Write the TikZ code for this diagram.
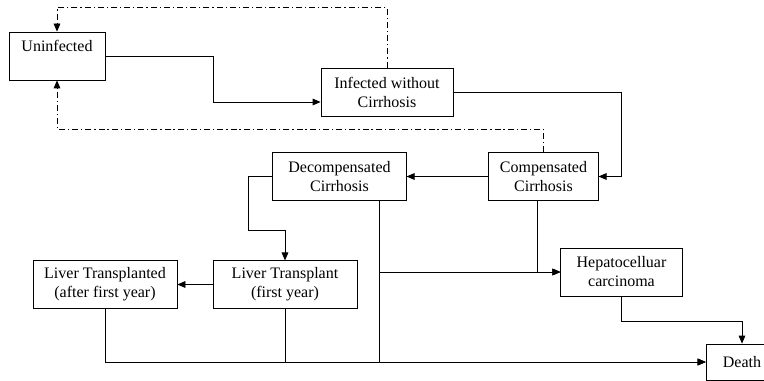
\documentclass[tikz,border=0pt]{standalone}
\usepackage{fontspec}
\setmainfont{Liberation Serif}
\usepackage{tikz}
\usetikzlibrary{arrows.meta}
\usetikzlibrary{shapes.geometric,shapes.misc}

\tikzset{
  state/.style={draw, rectangle, align=center, inner sep=2pt, line width=0.6pt,
    font=\fontsize{12}{14.25}\selectfont},
  trans/.style={line width=0.6pt, -{Triangle[length=6pt,width=5pt]}},
  back/.style={line width=0.6pt, dash pattern=on 4.5pt off 2.2pt on 1pt off 2.2pt,
    -{Triangle[length=6pt,width=5pt]}}
}

\begin{document}
\begin{tikzpicture}[x=0.75pt,y=-0.75pt]
\useasboundingbox (0,0) rectangle (764,381);
\node [state, minimum width=72pt, minimum height=36pt,
  label={[anchor=north, font=\fontsize{12}{14.25}\selectfont, yshift=-3pt]north:Uninfected}] (uninf) at (57,56) {};
\node [state, minimum width=99pt, minimum height=36pt] (infect) at (387,92) {Infected without\\Cirrhosis};
\node [state, minimum width=82pt, minimum height=35.5pt] (comp) at (543.5,176.5) {Compensated\\Cirrhosis};
\node [state, minimum width=100pt, minimum height=36pt] (decomp) at (339.5,176.5) {Decompensated\\Cirrhosis};
\node [state, minimum width=108pt, minimum height=35.5pt] (lt1) at (285,284.5) {Liver Transplant\\(first year)};
\node [state, minimum width=108pt, minimum height=35.5pt] (lt2) at (105,284.5) {Liver Transplanted\\(after first year)};
\node [state, minimum width=91pt, minimum height=36pt] (hcc) at (621.5,272) {Hepatocelluar\\carcinoma};
\node [state, minimum width=54pt, minimum height=27pt] (death) at (742,362) {Death};

\draw [trans] (uninf.east) -- ++(108,0) |- ([yshift=-7.5pt]infect.west);
\draw [back] (infect.north) -- ++(0,-60) -| (uninf.north);
\draw [back] (comp.north) -- ++(0,-23) -| (uninf.south);
\draw [trans] (infect.east) -- ++(168,0) |- (comp.east);
\draw [trans] (comp.west) -- (decomp.east);
\draw [trans] (decomp.west) -| ++(-24,53.5) -| (lt1.north);
\draw [trans] (lt1.west) -- (lt2.east);
\draw [trans] (lt2.south) |- (death.west);
\draw [trans] (lt1.south) |- (death.west);
\draw [trans] ([xshift=29.6pt]decomp.south) |- (death.west);
\draw [trans] ([xshift=29.6pt]decomp.south) |- (hcc.west);
\draw [trans] ([xshift=-4.5pt]comp.south) |- (hcc.west);
\draw [trans] (hcc.south) -- ++(0,25) -| (death.north);
\end{tikzpicture}
\end{document}
